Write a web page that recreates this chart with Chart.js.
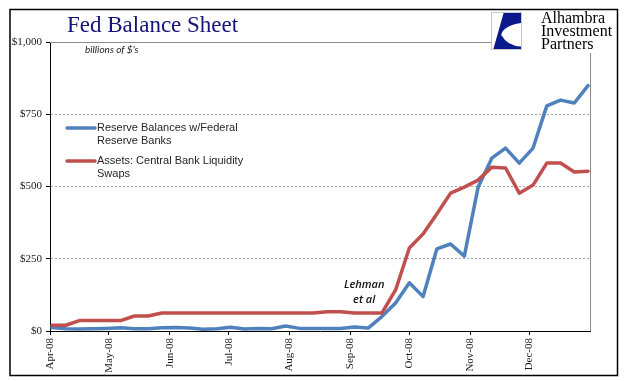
<!DOCTYPE html>
<html><head><meta charset="utf-8">
<script src="https://cdn.jsdelivr.net/npm/chart.js@4.4.1/dist/chart.umd.min.js"></script>
<style>html,body{margin:0;padding:0;background:#fff;overflow:hidden}</style>
</head><body>
<canvas id="c" width="641" height="381" style="display:block;width:641px;height:381px"></canvas>
<script>
// ---- data ----
const weeks = ['2008-04-02','2008-04-09','2008-04-16','2008-04-23','2008-04-30',
  '2008-05-07','2008-05-14','2008-05-21','2008-05-28',
  '2008-06-04','2008-06-11','2008-06-18','2008-06-25',
  '2008-07-02','2008-07-09','2008-07-16','2008-07-23','2008-07-30',
  '2008-08-06','2008-08-13','2008-08-20','2008-08-27',
  '2008-09-03','2008-09-10','2008-09-17','2008-09-24',
  '2008-10-01','2008-10-08','2008-10-15','2008-10-22','2008-10-29',
  '2008-11-05','2008-11-12','2008-11-19','2008-11-26',
  '2008-12-03','2008-12-10','2008-12-17','2008-12-24','2008-12-31'];
const reserveBalances = [12,8,7,8,9, 11,8,8,11, 12,10,6,8, 13,7,9,8,17, 9,9,9,9,
  14,10,50,97, 167,119,284,301,259, 497,598,633,581, 633,779,799,789,849];
const liquiditySwaps = [20,20,36,36,36, 36,52,52,62, 62,62,62,62, 62,62,62,62,62, 62,62,67,67,
  62,62,62,142, 287,336,405,477,498, 522,567,564,477, 505,581,581,550,553];
const seriesLabels = ['Reserve Balances w/Federal Reserve Banks', 'Assets: Central Bank Liquidity Swaps'];
const monthTickDates = ['2008-04-01','2008-05-01','2008-06-01','2008-07-01','2008-08-01',
  '2008-09-01','2008-10-01','2008-11-01','2008-12-01'];
const monthTickLabels = ['Apr-08','May-08','Jun-08','Jul-08','Aug-08','Sep-08','Oct-08','Nov-08','Dec-08'];
const xRange = ['2008-04-01','2009-01-01'];
const yTickValues = [0,250,500,750,1000];
const chartTitle = 'Fed Balance Sheet';
const unitsNote = "billions of $'s";
const annotationLines = ['Lehman','et al'];
const annotationAt = {date:'2008-09-08', values:[160,108]};
const logoLines = ['Alhambra','Investment','Partners'];

// ---- helpers ----
const DAY = 86400000;
const dayOff = d => Math.round((Date.parse(d) - Date.parse(xRange[0])) / DAY);
const tickByValue = {};
monthTickDates.forEach((d,i)=>{ tickByValue[dayOff(d)] = monthTickLabels[i]; });
const BLUE = '#4F81BD', RED = '#C0504D';

function wrap(ctx, text, maxW){
  const words = text.split(' '); const lines=[]; let cur='';
  words.forEach(w=>{ const t = cur ? cur+' '+w : w;
    if (cur && ctx.measureText(t).width > maxW){ lines.push(cur); cur=w; } else cur=t; });
  if (cur) lines.push(cur); return lines;
}

const decor = {
  id:'decor',
  beforeDraw(chart){
    const c=chart.ctx; c.save(); c.fillStyle='#fff'; c.fillRect(0,0,chart.width,chart.height); c.restore();
  },
  beforeDatasetsDraw(chart){
    const c=chart.ctx, a=chart.chartArea; c.save();
    c.strokeStyle='#8c8c8c'; c.lineWidth=1;
    c.beginPath(); c.moveTo(a.left, Math.round(a.top)+0.5); c.lineTo(491, Math.round(a.top)+0.5); c.stroke();
    c.beginPath(); c.moveTo(Math.round(a.right)+0.5, 53); c.lineTo(Math.round(a.right)+0.5, a.bottom); c.stroke();
    c.restore();
  },
  afterDraw(chart){
    const c=chart.ctx, xs=chart.scales.x, ys=chart.scales.y; c.save();
    // outer frame
    c.strokeStyle='#000'; c.lineWidth=1.5; c.strokeRect(10,9.5,607.5,366);
    // title
    c.fillStyle='#141478'; c.font='23px "Liberation Serif", serif'; c.textBaseline='alphabetic'; c.textAlign='left';
    c.fillText(chartTitle, 67, 32);
    // units note
    c.fillStyle='#222'; c.font='italic 10px Lato, sans-serif'; c.fillText(unitsNote, 85, 53);
    // legend
    c.font='11px "Liberation Sans", Arial, sans-serif'; c.textBaseline='middle';
    const ds = chart.data.datasets; let y=128;
    ds.forEach(d=>{
      c.strokeStyle=d.borderColor; c.lineWidth=3.5; c.lineCap='round';
      c.beginPath(); c.moveTo(67,y); c.lineTo(95,y); c.stroke();
      c.fillStyle='#262626';
      const lines = wrap(c, d.label, 150);
      lines.forEach((l,i)=> c.fillText(l, 97, y + i*12.5));
      y += 33;
    });
    // annotation
    c.font='italic 600 11px "Open Sans", sans-serif'; c.textAlign='center'; c.fillStyle='#111';
    const ax = xs.getPixelForValue(dayOff(annotationAt.date));
    annotationLines.forEach((l,i)=> c.fillText(l, ax, ys.getPixelForValue(annotationAt.values[i])));
    // logo
    c.fillStyle='#fff'; c.fillRect(491,11,125,41);
    const lx=491, ly=12, W=30, H=37;
    c.strokeStyle='#c8c8c8'; c.lineWidth=1; c.strokeRect(lx+0.5,ly+0.5,W,H);
    c.fillStyle='#0a1a8c'; c.beginPath();
    c.moveTo(lx+0.42*W, ly+1); c.lineTo(lx+W, ly+1); c.lineTo(lx+W, ly+0.3*H);
    c.quadraticCurveTo(lx+0.4*W, ly+0.38*H, lx+0.34*W, ly+0.62*H);
    c.quadraticCurveTo(lx+0.55*W, ly+0.92*H, lx+W, ly+0.93*H);
    c.lineTo(lx+W, ly+H); c.lineTo(lx+0.08*W, ly+H); c.closePath(); c.fill();
    c.fillStyle='#000'; c.textAlign='left'; c.textBaseline='alphabetic';
    c.font='16px "Liberation Serif", serif';
    logoLines.forEach((l,i)=> c.fillText(l, 541, 23 + i*13));
    c.restore();
  }
};

new Chart(document.getElementById('c'), {
  type:'line',
  data:{ datasets:[
    { label: seriesLabels[0], data: weeks.map((w,i)=>({x:dayOff(w), y:reserveBalances[i]})),
      borderColor: BLUE, backgroundColor: BLUE, borderWidth:3.5, pointRadius:0, tension:0,
      borderJoinStyle:'round', borderCapStyle:'round', order:1 },
    { label: seriesLabels[1], data: weeks.map((w,i)=>({x:dayOff(w), y:liquiditySwaps[i]})),
      borderColor: RED, backgroundColor: RED, borderWidth:3.5, pointRadius:0, tension:0,
      borderJoinStyle:'round', borderCapStyle:'round', order:0 }
  ]},
  options:{
    responsive:false, animation:false, devicePixelRatio:1,
    layout:{ padding:{ left:0, top:42, right:51, bottom:0 } },
    plugins:{ legend:{display:false}, tooltip:{enabled:false}, title:{display:false} },
    scales:{
      x:{ type:'linear', min:0, max:dayOff(xRange[1]),
        afterBuildTicks: s => { s.ticks = monthTickDates.map(d=>({value:dayOff(d)})); },
        afterFit: s => { s.height = 50; },
        ticks:{ autoSkip:false, minRotation:90, maxRotation:90, padding:3, color:'#1a1a1a',
          font:{ family:'"Liberation Serif", serif', size:11 },
          callback: v => tickByValue[v] },
        grid:{ drawOnChartArea:false, drawTicks:true, tickLength:4, tickColor:'#000' },
        border:{ display:true, color:'#000', width:1 } },
      y:{ min:0, max:1000,
        afterBuildTicks: s => { s.ticks = yTickValues.map(v=>({value:v})); },
        afterFit: s => { s.width = 50; },
        ticks:{ padding:4, color:'#1a1a1a', font:{ family:'"Liberation Serif", serif', size:11 },
          callback: v => '$' + v.toLocaleString('en-US') },
        grid:{ color: ctx => (ctx.tick && (ctx.tick.value===0 || ctx.tick.value===1000)) ? 'rgba(0,0,0,0)' : '#a6a6a6',
          tickColor:'#000', tickLength:4, lineWidth:1 },
        border:{ display:true, color:'#000', width:1, dash:[2,2] } }
    }
  },
  plugins:[decor]
});
</script>
</body></html>
